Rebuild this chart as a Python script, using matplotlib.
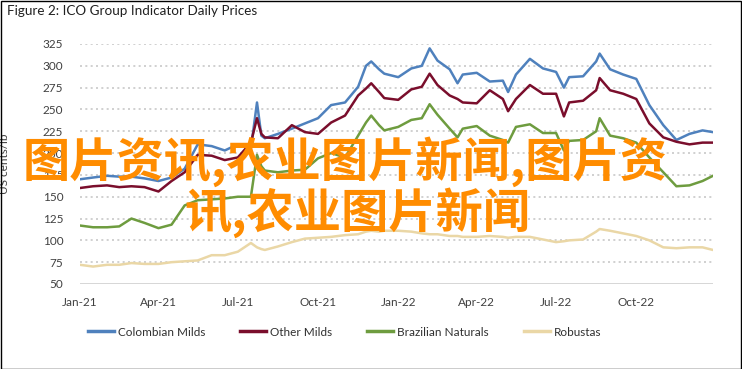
import matplotlib
matplotlib.use("Agg")
import matplotlib.pyplot as plt
import pandas as pd
from matplotlib.patches import Rectangle

plt.rcParams['font.family'] = ['Liberation Sans Narrow', 'Lato', 'DejaVu Sans']

dates = ["2021-01-01", "2021-01-16", "2021-02-01", "2021-02-15", "2021-03-01", "2021-03-16",
         "2021-04-01", "2021-04-16", "2021-05-01", "2021-05-16", "2021-06-01", "2021-06-16",
         "2021-07-01", "2021-07-16", "2021-07-23", "2021-07-28", "2021-08-01", "2021-08-16",
         "2021-09-01", "2021-09-16", "2021-10-01", "2021-10-16", "2021-11-01", "2021-11-16",
         "2021-11-25", "2021-12-01", "2021-12-10", "2021-12-16", "2022-01-01", "2022-01-16",
         "2022-01-28", "2022-02-06", "2022-02-15", "2022-03-01", "2022-03-10", "2022-03-16",
         "2022-04-01", "2022-04-16", "2022-05-01", "2022-05-07", "2022-05-16", "2022-06-01",
         "2022-06-16", "2022-07-01", "2022-07-10", "2022-07-16", "2022-08-01", "2022-08-16",
         "2022-08-20", "2022-09-01", "2022-09-16", "2022-10-01", "2022-10-16", "2022-11-01",
         "2022-11-16", "2022-12-01", "2022-12-16", "2022-12-28"]

colombian_milds = [170, 172, 174, 173, 173, 171, 168, 172, 182, 210, 208, 203,
                   210, 205, 258, 220, 217, 222, 228, 234, 240, 255, 258, 276,
                   300, 305, 296, 291, 287, 297, 300, 320, 306, 296, 280, 290,
                   292, 282, 283, 270, 290, 308, 297, 293, 275, 287, 288, 305,
                   314, 296, 290, 285, 255, 232, 215, 222, 226, 224]

other_milds = [160, 162, 163, 161, 162, 161, 156, 168, 178, 198, 197, 192,
               195, 212, 240, 222, 218, 217, 232, 224, 222, 235, 243, 266,
               274, 280, 270, 263, 261, 273, 276, 291, 278, 266, 262, 258,
               257, 272, 262, 248, 262, 278, 268, 268, 242, 258, 260, 272,
               286, 272, 268, 262, 234, 218, 213, 210, 212, 212]

brazilian_naturals = [117, 115, 115, 116, 125, 120, 114, 118, 140, 146, 147, 148,
                      150, 150, 198, 185, 180, 178, 180, 181, 194, 200, 195, 220,
                      235, 243, 232, 226, 230, 238, 240, 256, 244, 228, 218, 228,
                      231, 220, 215, 212, 230, 233, 223, 223, 203, 214, 215, 225,
                      240, 220, 217, 212, 195, 178, 162, 163, 168, 174]

robustas = [72, 70, 72, 72, 74, 73, 73, 75, 76, 77, 83, 83,
            87, 97, 92, 90, 89, 93, 98, 102, 103, 104, 106, 107,
            110, 111, 110, 111, 111, 110, 108, 107, 107, 105, 105, 104,
            104, 105, 104, 103, 104, 104, 101, 98, 99, 100, 101, 110,
            113, 111, 108, 105, 100, 92, 91, 92, 92, 89]

series_names = ["Colombian Milds", "Other Milds", "Brazilian Naturals", "Robustas"]
series_values = [colombian_milds, other_milds, brazilian_naturals, robustas]
series_colors = ["#4F81BD", "#7A0E2C", "#6E9C3F", "#EAD7A6"]

y_ticks = [50, 75, 100, 125, 150, 175, 200, 225, 250, 275, 300, 325]
x_tick_dates = ["2021-01-01", "2021-04-01", "2021-07-01", "2021-10-01",
                "2022-01-01", "2022-04-01", "2022-07-01", "2022-10-01"]
x_tick_labels = ["Jan-21", "Apr-21", "Jul-21", "Oct-21", "Jan-22", "Apr-22", "Jul-22", "Oct-22"]

title = "Figure 2: ICO Group Indicator Daily Prices"
y_label = "US cents/lb"
overlay_line1 = "图片资讯,农业图片新闻,图片资"
overlay_line2 = "讯,农业图片新闻"

W, H = 742, 369
fig = plt.figure(figsize=(W / 100, H / 100), dpi=100)
ax = fig.add_axes([80 / W, 1 - 284 / H, (713 - 80) / W, (284 - 44) / H])

x = pd.to_datetime(dates)
for name, vals, col in zip(series_names, series_values, series_colors):
    ax.plot(x, vals, color=col, lw=1.8, label=name, solid_joinstyle='round')

ax.set_ylim(50, 325)
ax.set_xlim(pd.Timestamp("2021-01-01"), pd.Timestamp("2022-12-28"))
ax.set_yticks(y_ticks)
ax.set_yticklabels([str(v) for v in y_ticks])
ax.set_xticks(pd.to_datetime(x_tick_dates))
ax.set_xticklabels(x_tick_labels)
ax.tick_params(axis='both', length=0, labelsize=8.5, colors="#404040")
ax.tick_params(axis='y', pad=12)
ax.tick_params(axis='x', pad=9)
for s in ax.spines.values():
    s.set_visible(False)
for v in y_ticks[1:]:
    ax.axhline(v, color="#C8C8C8", lw=1.2, ls=(0, (1.2, 2.0)), zorder=0)
ax.axhline(50, color="#D0D0D0", lw=1.2, zorder=0)

ax.set_ylabel(y_label, fontsize=8.5, color="#404040", labelpad=8)
ax.yaxis.set_label_coords(-70 / (713 - 80), 0.5)

fig.text(7 / W, 1 - 11 / H, title, fontsize=9.7, color="#202020", ha='left', va='center')

leg = fig.legend(loc='center left', bbox_to_anchor=(88 / W, 1 - 332 / H), ncol=4,
                 frameon=False, fontsize=8.5, handlelength=2.2, handletextpad=0.3,
                 columnspacing=3.0, borderaxespad=0, borderpad=0)
for lh in leg.get_lines():
    lh.set_linewidth(2.5)
for t in leg.get_texts():
    t.set_color("#303030")

cjk = ['Noto Sans CJK SC', 'DejaVu Sans']
fig.text(345 / W, 1 - 162 / H, overlay_line1, fontsize=34, color="#FF8C00",
         family=cjk, weight='bold', ha='center', va='center')
fig.text(357 / W, 1 - 213 / H, overlay_line2, fontsize=34, color="#FF8C00",
         family=cjk, weight='bold', ha='center', va='center')

fig.patches.append(Rectangle((0.5 / W, 0.5 / H), 1 - 1.5 / W, 1 - 1.5 / H,
                             transform=fig.transFigure, fill=False, ec="black", lw=1.0))

fig.savefig("out.png", dpi=100)
